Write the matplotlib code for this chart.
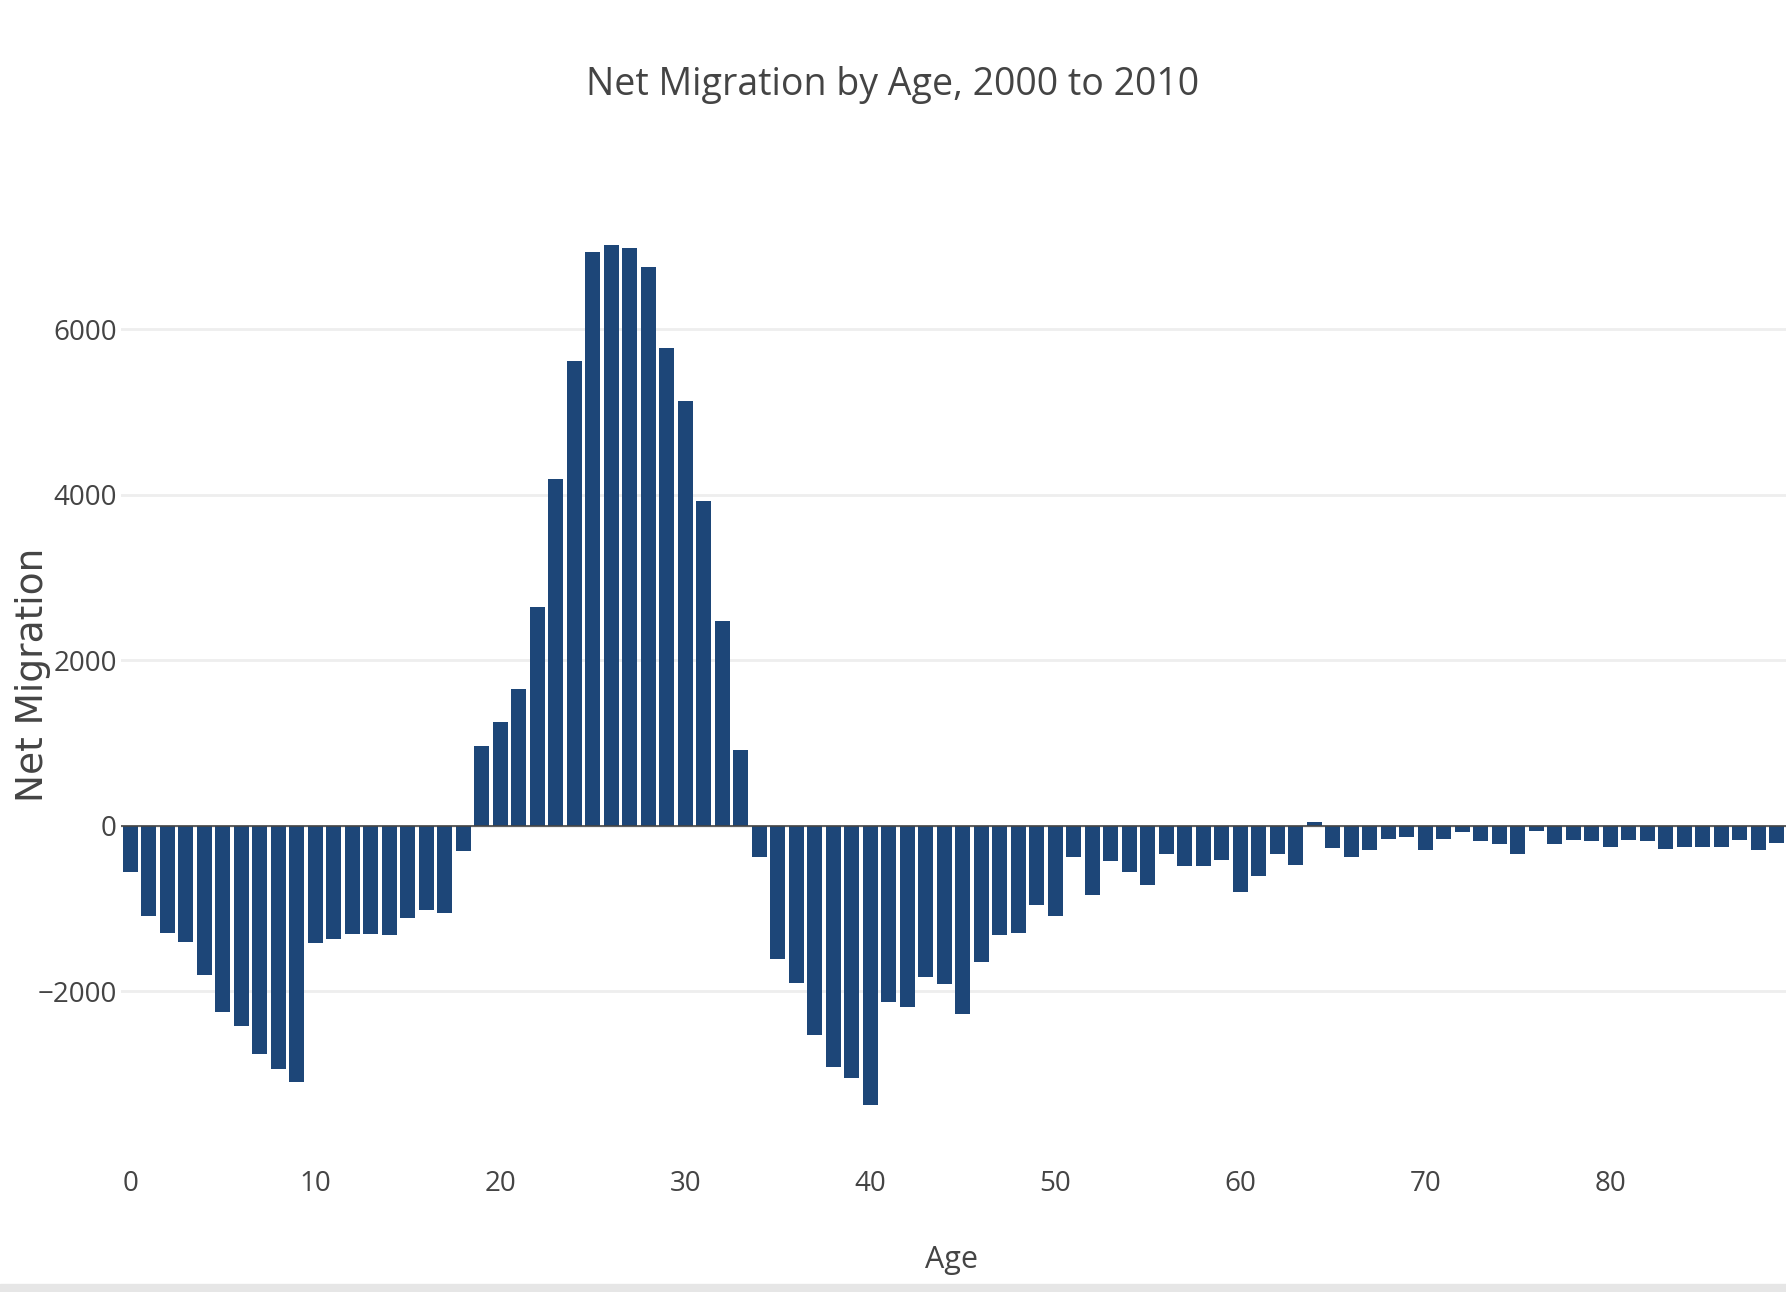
import matplotlib
matplotlib.use("Agg")
import matplotlib.pyplot as plt
from matplotlib.patches import Rectangle

ages = list(range(90))
net_migration = [
    -560, -1090, -1290, -1400, -1800, -2250, -2420, -2750, -2940, -3090,
    -1410, -1370, -1300, -1300, -1320, -1110, -1020, -1050, -300, 970,
    1260, 1650, 2640, 4190, 5620, 6940, 7020, 6980, 6750, 5780,
    5140, 3930, 2480, 920, -380, -1610, -1900, -2530, -2910, -3050,
    -3370, -2130, -2190, -1820, -1910, -2270, -1650, -1320, -1290, -950,
    -1090, -370, -840, -420, -560, -710, -340, -480, -480, -410,
    -800, -600, -340, -470, 50, -270, -370, -290, -160, -130,
    -290, -160, -70, -180, -220, -340, -60, -220, -170, -180,
    -250, -170, -180, -280, -250, -250, -260, -170, -290, -210,
]
x_ticks = [0, 10, 20, 30, 40, 50, 60, 70, 80]
y_ticks = [-2000, 0, 2000, 4000, 6000]
y_tick_labels = ["\u22122000", "0", "2000", "4000", "6000"]

font = ["Open Sans", "DejaVu Sans"]
text_color = "#444444"
bar_color = "#1d4678"


def main():
    fig = plt.figure(figsize=(17.86, 12.92), dpi=100)
    ax = fig.add_axes([0.0677, 0.1115, 0.9323, 0.7322])

    ax.bar(ages, net_migration, width=0.8, color=bar_color, zorder=3)
    ax.axhline(0, color=text_color, lw=1.2, zorder=4)

    ax.set_xlim(-0.5, 89.5)
    ax.set_ylim(-3891, 7541)
    ax.set_yticks(y_ticks)
    ax.set_yticklabels(y_tick_labels, family=font, fontsize=20, color=text_color)
    ax.set_xticks(x_ticks)
    ax.set_xticklabels([str(t) for t in x_ticks], family=font, fontsize=20,
                       color=text_color)
    ax.tick_params(length=0, pad=3)
    ax.tick_params(axis="x", pad=16)
    ax.grid(axis="y", color="#eeeeee", lw=2, zorder=0)
    for s in ax.spines.values():
        s.set_visible(False)

    fig.text(0.5, 0.934, "Net Migration by Age, 2000 to 2010", ha="center",
             va="center", family=font, fontsize=27, color=text_color)
    fig.text(0.533, 0.025, "Age", ha="center", va="center", family=font,
             fontsize=22, color=text_color)
    fig.text(0.0185, 0.478, "Net Migration", ha="center", va="center",
             rotation=90, family="DejaVu Sans", fontsize=27, color=text_color)

    # light strip at the bottom edge of the screenshot
    fig.patches.append(Rectangle((0, 0), 1, 0.006, transform=fig.transFigure,
                                 color="#e6e6e6", zorder=0))

    fig.savefig("out.png", dpi=100)


if __name__ == "__main__":
    main()
